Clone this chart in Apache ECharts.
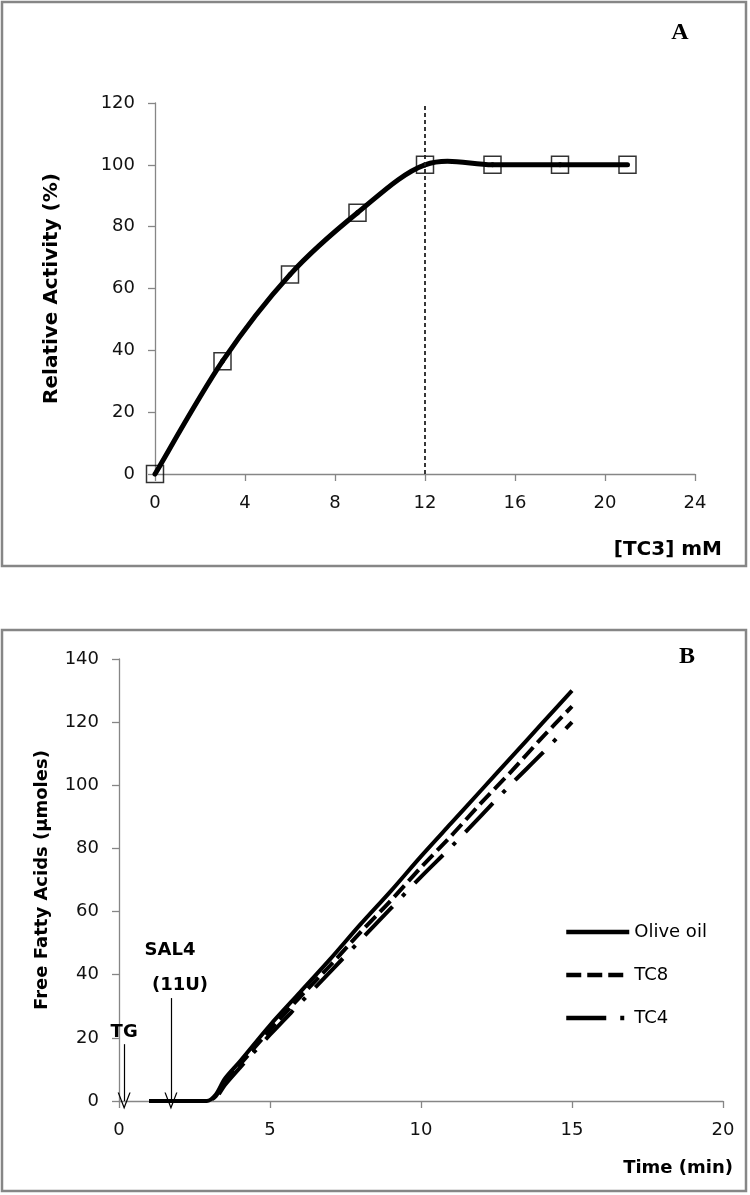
<!DOCTYPE html>
<html>
<head>
<meta charset="utf-8">
<script src="https://cdn.jsdelivr.net/npm/echarts@6/dist/echarts.min.js"></script>
<style>html,body{margin:0;padding:0;background:#fff;}#c{width:750px;height:1195px;}</style>
</head>
<body>
<div id="c"></div>
<script>
// Panel A data
const tc3Conc = [0, 3, 6, 9, 12, 15, 18, 21];
const relActivity = [0, 36.5, 64.5, 84.5, 100, 100, 100, 100];
const markerConc = 12;

// Panel B data
const timeMin = [1, 2, 2.5, 2.9, 3.2, 3.5, 4, 5, 6, 7, 8, 9, 10, 11, 12, 13, 14, 15];
const oliveOil = [0, 0, 0, 0, 2, 7, 12.5, 24, 34.5, 45, 56, 66.5, 77.5, 88, 98.5, 109, 119.5, 130];
const tc8 = [0, 0, 0, 0, 1.5, 6, 11.5, 22.5, 33, 43, 53.5, 63.5, 74, 84, 94.5, 104.5, 115, 125];
const tc4 = [0, 0, 0, 0, 1, 5, 10.5, 21, 31, 41, 51, 61, 71, 80.5, 90.5, 100.5, 110, 120];
const seriesNamesB = ['Olive oil', 'TC8', 'TC4'];

// Annotation arrows (time, start height)
const tgArrow = [0.17, 18];
const salArrow = [1.72, 32.6];

const pair = (xs, ys) => xs.map((x, i) => [x, ys[i]]);

const FONT = 'DejaVu Sans';
const axisGray = '#868686';
const arrowSym = 'path://M0,10 L5,0 L10,10 L9,10 L5,2 L1,10 Z';

function axisCommon(min, max, interval) {
  return {
    type: 'value', min: min, max: max, interval: interval,
    splitLine: {show: false},
    axisLine: {show: true, lineStyle: {color: axisGray, width: 1.3}},
    axisTick: {show: true, inside: false, length: 7, lineStyle: {color: axisGray, width: 1.3}},
    axisLabel: {color: '#111', fontFamily: FONT, fontSize: 18, margin: 20}
  };
}

// Spreadsheet-style smoothed segment (cardinal spline) between point i and i+1
function renderSmoothSegment(params, api) {
  const n = tc3Conc.length;
  const i = params.dataIndex;
  if (i >= n - 1) return null;
  const P = k => {
    const j = Math.max(0, Math.min(n - 1, k));
    return api.coord([tc3Conc[j], relActivity[j]]);
  };
  const p0 = P(i - 1), p1 = P(i), p2 = P(i + 1), p3 = P(i + 2);
  return {
    type: 'bezierCurve',
    shape: {
      x1: p1[0], y1: p1[1], x2: p2[0], y2: p2[1],
      cpx1: p1[0] + (p2[0] - p0[0]) / 6, cpy1: p1[1] + (p2[1] - p0[1]) / 6,
      cpx2: p2[0] - (p3[0] - p1[0]) / 6, cpy2: p2[1] - (p3[1] - p1[1]) / 6
    },
    style: {stroke: '#000', lineWidth: 5, fill: null, lineCap: 'round'}
  };
}

const chart = echarts.init(document.getElementById('c'), null, {renderer: 'canvas'});
chart.setOption({
  animation: false,
  backgroundColor: '#fff',
  grid: [
    {left: 155, top: 103, width: 540, height: 371},
    {left: 119, top: 659, width: 604, height: 442}
  ],
  xAxis: [
    Object.assign(axisCommon(0, 24, 4), {gridIndex: 0}),
    Object.assign(axisCommon(0, 20, 5), {gridIndex: 1})
  ],
  yAxis: [
    Object.assign(axisCommon(0, 120, 20), {gridIndex: 0, name: 'Relative Activity (%)', nameLocation: 'middle', nameGap: 93,
      nameTextStyle: {fontFamily: FONT, fontWeight: 'bold', fontSize: 20, color: '#000'}}),
    Object.assign(axisCommon(0, 140, 20), {gridIndex: 1, name: 'Free Fatty Acids (µmoles)', nameLocation: 'middle', nameGap: 68,
      nameTextStyle: {fontFamily: FONT, fontWeight: 'bold', fontSize: 18, color: '#000'}})
  ],
  legend: {
    data: seriesNamesB,
    orient: 'vertical',
    left: 559, top: 917,
    itemWidth: 63, itemHeight: 14, itemGap: 23,
    itemStyle: {opacity: 0},
    lineStyle: {width: 4.5},
    textStyle: {fontFamily: FONT, fontSize: 18, color: '#000', lineHeight: 20}
  },
  graphic: [
    {type: 'rect', shape: {x: 2, y: 2, width: 744, height: 564}, style: {fill: 'none', stroke: axisGray, lineWidth: 2.5}},
    {type: 'rect', shape: {x: 2, y: 630, width: 744, height: 561}, style: {fill: 'none', stroke: axisGray, lineWidth: 2.5}},
    {type: 'text', x: 680, y: 33, style: {text: 'A', font: 'bold 24px "Liberation Serif"', fill: '#000', textAlign: 'center', textVerticalAlign: 'middle'}},
    {type: 'text', x: 687, y: 657, style: {text: 'B', font: 'bold 24px "Liberation Serif"', fill: '#000', textAlign: 'center', textVerticalAlign: 'middle'}},
    {type: 'text', x: 722, y: 550, style: {text: '[TC3] mM', font: 'bold 20px "DejaVu Sans"', fill: '#000', textAlign: 'right', textVerticalAlign: 'middle'}},
    {type: 'text', x: 733, y: 1168, style: {text: 'Time (min)', font: 'bold 18px "DejaVu Sans"', fill: '#000', textAlign: 'right', textVerticalAlign: 'middle'}}
  ],
  series: [
    {
      name: 'Relative Activity curve', type: 'custom', xAxisIndex: 0, yAxisIndex: 0,
      data: pair(tc3Conc, relActivity),
      encode: {x: 0, y: 1},
      renderItem: renderSmoothSegment,
      silent: true, z: 2
    },
    {
      name: 'Relative Activity', type: 'scatter', xAxisIndex: 0, yAxisIndex: 0,
      data: pair(tc3Conc, relActivity),
      symbol: 'rect', symbolSize: 17,
      itemStyle: {color: 'rgba(0,0,0,0)', borderColor: '#000', borderWidth: 1.5},
      markLine: {
        silent: true, symbol: ['none', 'none'],
        lineStyle: {color: '#222', width: 1.8, type: [4, 3]},
        label: {show: false},
        data: [{xAxis: markerConc}]
      },
      z: 3
    },
    {
      name: 'Olive oil', type: 'line', xAxisIndex: 1, yAxisIndex: 1,
      data: pair(timeMin, oliveOil), smooth: 0.3, showSymbol: false, symbol: 'none',
      lineStyle: {color: '#000', width: 4, type: 'solid'}, itemStyle: {color: '#000'},
      markLine: {
        silent: true, symbol: ['none', arrowSym], symbolSize: [13, 17],
        lineStyle: {color: '#000', width: 1.2, type: 'solid'},
        label: {show: false},
        data: [
          [{coord: [tgArrow[0], tgArrow[1]]}, {coord: [tgArrow[0], 0]}],
          [{coord: [salArrow[0], salArrow[1]]}, {coord: [salArrow[0], 0]}]
        ]
      },
      markPoint: {
        silent: true, symbol: 'circle', symbolSize: 0,
        label: {show: true, position: 'inside', fontFamily: FONT, fontWeight: 'bold', fontSize: 18, color: '#000', formatter: p => p.name},
        data: [
          {name: 'TG', coord: [0.17, 21.8]},
          {name: 'SAL4', coord: [1.69, 47.8]},
          {name: '(11U)', coord: [2.02, 36.7]}
        ]
      }
    },
    {
      name: 'TC8', type: 'line', xAxisIndex: 1, yAxisIndex: 1,
      data: pair(timeMin, tc8), smooth: 0.3, showSymbol: false, symbol: 'none',
      lineStyle: {color: '#000', width: 4, type: [15, 6]}, itemStyle: {color: '#000'}
    },
    {
      name: 'TC4', type: 'line', xAxisIndex: 1, yAxisIndex: 1,
      data: pair(timeMin, tc4), smooth: 0.3, showSymbol: false, symbol: 'none',
      lineStyle: {color: '#000', width: 4, type: [40, 14, 4, 14]}, itemStyle: {color: '#000'}
    }
  ]
});
</script>
</body>
</html>
